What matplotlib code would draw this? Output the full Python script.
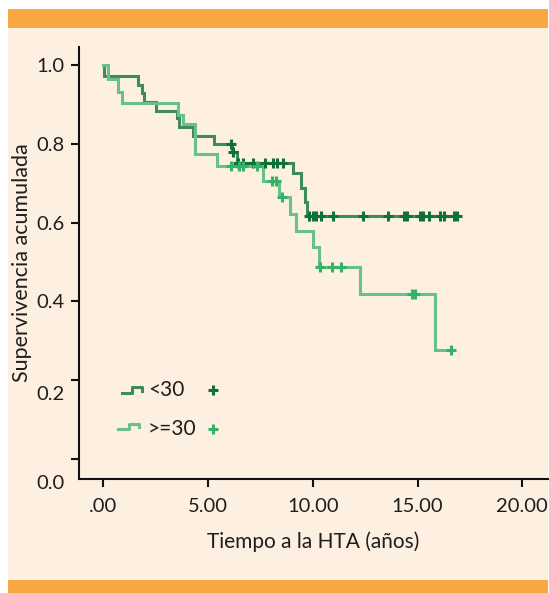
import numpy as np
import matplotlib
matplotlib.use('Agg')
import matplotlib.pyplot as plt
from matplotlib.patches import Rectangle
from matplotlib.transforms import ScaledTranslation

# Kaplan-Meier curves
# group <30: event times and survival level after each event
t_lt30 = [0.05, 1.67, 1.83, 1.94, 2.52, 3.50, 3.60, 4.30, 5.28, 6.15, 6.38,
          9.07, 9.42, 9.63, 9.74]
s_lt30 = [0.972, 0.949, 0.928, 0.907, 0.883, 0.865, 0.844, 0.820, 0.801,
          0.780, 0.752, 0.725, 0.689, 0.653, 0.618]
end_lt30 = 16.95
cens_lt30 = [6.12, 6.20, 6.42, 6.68, 7.15, 7.70, 8.11, 8.30, 8.58, 9.83, 10.0,
             10.17, 10.38, 10.98, 12.38, 13.60, 14.35, 14.51, 15.12, 15.27,
             15.56, 16.07, 16.26, 16.74, 16.90]

# group >=30
t_ge30 = [0.24, 0.72, 0.88, 3.55, 3.79, 4.38, 5.44, 7.64, 8.40, 8.91, 9.20,
          10.02, 10.31, 12.25, 15.83]
s_ge30 = [0.964, 0.932, 0.903, 0.873, 0.850, 0.774, 0.744, 0.707, 0.666,
          0.621, 0.580, 0.537, 0.488, 0.419, 0.277]
end_ge30 = 16.65
cens_ge30 = [6.08, 6.49, 6.65, 7.32, 8.04, 8.24, 8.51, 10.36, 10.90, 11.33,
             14.72, 14.88, 16.58]

xticks = [0, 5, 10, 15, 20]
xticklabels = ['.00', '5.00', '10.00', '15.00', '20.00']
yticks = [0.0, 0.2, 0.4, 0.6, 0.8, 1.0]
yticklabels = ['0.0', '0.2', '0.4', '0.6', '0.8', '1.0']

cream = '#fdf0e0'
orange = '#f9a740'
dark_line = '#3f8a5e'
dark_mark = '#0f7038'
light_line = '#66c28a'
light_mark = '#34b268'
txt = '#1e1e1e'

plt.rcParams['font.family'] = ['Lato', 'DejaVu Sans']

W, H = 549, 593
fig = plt.figure(figsize=(W / 100, H / 100), dpi=100, facecolor='white')

# background panel and orange bands (pixel coords -> figure fraction)
def band(x0, y0, x1, y1, color):
    fig.patches.append(Rectangle((x0 / W, 1 - y1 / H), (x1 - x0) / W,
                                 (y1 - y0) / H, transform=fig.transFigure,
                                 facecolor=color, edgecolor='none', zorder=-10))

band(8.3, 28, 548, 580, cream)
band(8.3, 9.3, 548, 28, orange)
band(8.3, 579.5, 548, 593, orange)

ax = fig.add_axes([79.3 / W, 1 - 479 / H, (548 - 79.3) / W, (479 - 47) / H])
ax.set_facecolor('none')
ax.set_zorder(5)


def km_steps(times, levels, end):
    x = np.concatenate([[0.0], times, [end]])
    y = np.concatenate([[1.0], levels, [levels[-1]]])
    return x, y


def level_at(times, levels, t):
    idx = np.searchsorted(times, t, side='right')
    lv = np.concatenate([[1.0], levels])
    return lv[idx]


for times, levels, end, cens, lc, mc in [
        (t_lt30, s_lt30, end_lt30, cens_lt30, dark_line, dark_mark),
        (t_ge30, s_ge30, end_ge30, cens_ge30, light_line, light_mark)]:
    x, y = km_steps(np.array(times), np.array(levels), end)
    ax.step(x, y, where='post', color=lc, lw=2.2, solid_joinstyle='miter',
            zorder=3)
    cy = level_at(np.array(times), np.array(levels), np.array(cens))
    ax.plot(cens, cy, ls='none', marker='+', ms=7.5, mew=2.2, color=mc,
            zorder=4)

ax.set_xlim(-1.146, 21.23)
ax.set_ylim(-0.0507, 1.046)
ax.set_xticks(xticks)
ax.set_xticklabels(xticklabels)
ax.set_yticks(yticks)
ax.set_yticklabels(yticklabels)

for s in ['top', 'right']:
    ax.spines[s].set_visible(False)
for s in ['left', 'bottom']:
    ax.spines[s].set_linewidth(1.5)
    ax.spines[s].set_color('#111111')

ax.tick_params(axis='both', direction='out', length=5.5, width=1.5,
               colors='#111111', labelsize=14.5, labelcolor=txt)
ax.tick_params(axis='x', pad=8)
ax.tick_params(axis='y', pad=5)

# the two lowest y labels sit a bit below their ticks in the original
labs = ax.get_yticklabels()
labs[0].set_transform(labs[0].get_transform() + ScaledTranslation(0, -23 / 100, fig.dpi_scale_trans))
labs[1].set_transform(labs[1].get_transform() + ScaledTranslation(0, -13 / 100, fig.dpi_scale_trans))

ax.set_xlabel('Tiempo a la HTA (años)', fontsize=15, color=txt, labelpad=12)
ax.set_ylabel('Supervivencia acumulada', fontsize=15.5, color=txt,
              labelpad=3)

# legend drawn by hand: small step glyph, label, censor mark
tr = ax.transAxes
ax.plot([0.0905, 0.112, 0.112, 0.133, 0.133], [0.200, 0.200, 0.212, 0.212, 0.204],
        color=dark_line, lw=2.2, transform=tr, clip_on=False)
ax.text(0.147, 0.207, '<30', transform=tr, fontsize=15, color=txt,
        va='center', ha='left')
ax.plot([0.285], [0.207], marker='+', ms=7.5, mew=2.2, color=dark_mark,
        transform=tr, clip_on=False)

ax.plot([0.083, 0.105, 0.105, 0.128, 0.128], [0.115, 0.115, 0.127, 0.127, 0.120],
        color=light_line, lw=2.2, transform=tr, clip_on=False)
ax.text(0.145, 0.116, '>=30', transform=tr, fontsize=15, color=txt,
        va='center', ha='left')
ax.plot([0.286], [0.116], marker='+', ms=7.5, mew=2.2, color=light_mark,
        transform=tr, clip_on=False)

fig.savefig('out.png', dpi=100, facecolor='white')
